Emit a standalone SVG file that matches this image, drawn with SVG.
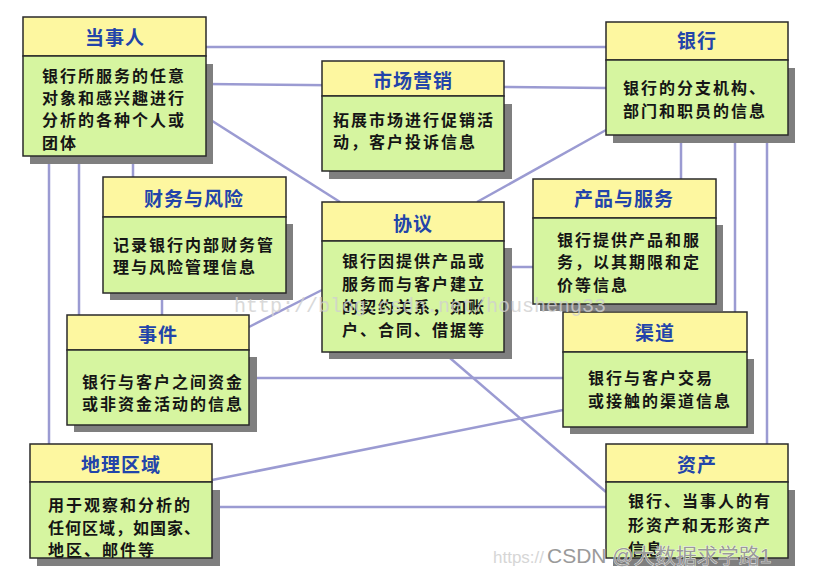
<svg xmlns="http://www.w3.org/2000/svg" width="830" height="586" viewBox="0 0 830 586">
<style>
.bg{fill:#ffffff}
.cn{fill:none;stroke:#9b9bd2;stroke-width:2.5}
.sh{fill:#7f7f7f}
.hd{fill:#fdf7a0;stroke:#2a2a2a;stroke-width:1.5}
.bd{fill:#d6f5a0;stroke:#2a2a2a;stroke-width:1.5}
.tt{font-family:"Noto Sans CJK SC","Liberation Sans",sans-serif;font-size:19px;font-weight:bold;fill:#2244aa;text-anchor:middle;letter-spacing:1px}
.tx{font-family:"Noto Sans CJK SC","Liberation Sans",sans-serif;font-size:16px;font-weight:bold;fill:#151515;letter-spacing:2px}
.wm{font-family:"Liberation Mono",monospace;font-size:20px;fill:#d0d0d0;opacity:0.8}
.wm2{font-family:"Liberation Sans","Noto Sans CJK SC",sans-serif;font-size:21px;fill:#9a9a9a;stroke:#ffffff;stroke-width:0.6;paint-order:stroke}
</style>
<rect class="bg" width="830" height="586"/>
<g id="connectors">
<line class="cn" x1="206" y1="47" x2="606" y2="47"/>
<line class="cn" x1="206" y1="84" x2="606" y2="88"/>
<line class="cn" x1="206" y1="117" x2="340" y2="202"/>
<line class="cn" x1="477" y1="202" x2="606" y2="130"/>
<line class="cn" x1="49" y1="156" x2="49" y2="444"/>
<line class="cn" x1="79" y1="156" x2="79" y2="315"/>
<line class="cn" x1="133" y1="156" x2="133" y2="177"/>
<line class="cn" x1="162" y1="293" x2="162" y2="315"/>
<line class="cn" x1="249" y1="327" x2="322" y2="290"/>
<line class="cn" x1="249" y1="378" x2="563" y2="378"/>
<line class="cn" x1="504" y1="267" x2="533" y2="267"/>
<line class="cn" x1="443" y1="352" x2="606" y2="492"/>
<line class="cn" x1="212" y1="480" x2="563" y2="410"/>
<line class="cn" x1="212" y1="507" x2="606" y2="507"/>
<line class="cn" x1="681" y1="135" x2="681" y2="179"/>
<line class="cn" x1="735" y1="135" x2="735" y2="312"/>
<line class="cn" x1="767" y1="135" x2="767" y2="444"/>
</g>
<g id="node-dangshiren">
<rect class="sh" x="30" y="64" width="183" height="100"/>
<rect class="hd" x="23" y="17" width="183" height="39"/>
<rect class="bd" x="23" y="56" width="183" height="100"/>
<text class="tt" x="115" y="45">当事人</text>
<text class="tx" x="42" y="82">银行所服务的任意</text>
<text class="tx" x="42" y="104">对象和感兴趣进行</text>
<text class="tx" x="42" y="126">分析的各种个人或</text>
<text class="tx" x="42" y="149">团体</text>
</g>
<g id="node-shichang">
<rect class="sh" x="329" y="104" width="183" height="75"/>
<rect class="hd" x="322" y="61" width="182" height="35"/>
<rect class="bd" x="322" y="96" width="182" height="75"/>
<text class="tt" x="413" y="88">市场营销</text>
<text class="tx" x="333" y="126">拓展市场进行促销活</text>
<text class="tx" x="333" y="148">动，客户投诉信息</text>
</g>
<g id="node-yinhang">
<rect class="sh" x="613" y="68" width="182" height="75"/>
<rect class="hd" x="606" y="22" width="182" height="38"/>
<rect class="bd" x="606" y="60" width="182" height="75"/>
<text class="tt" x="697" y="48">银行</text>
<text class="tx" x="623" y="94">银行的分支机构、</text>
<text class="tx" x="623" y="117">部门和职员的信息</text>
</g>
<g id="node-caiwu">
<rect class="sh" x="110" y="224" width="183" height="76"/>
<rect class="hd" x="103" y="177" width="183" height="40"/>
<rect class="bd" x="103" y="217" width="183" height="76"/>
<text class="tt" x="194" y="206">财务与风险</text>
<text class="tx" x="113" y="251">记录银行内部财务管</text>
<text class="tx" x="113" y="273">理与风险管理信息</text>
</g>
<g id="node-xieyi">
<rect class="sh" x="329" y="248" width="183" height="111"/>
<rect class="hd" x="322" y="202" width="182" height="39"/>
<rect class="bd" x="322" y="241" width="182" height="111"/>
<text class="tt" x="413" y="231">协议</text>
<text class="tx" x="342" y="267">银行因提供产品或</text>
<text class="tx" x="342" y="290">服务而与客户建立</text>
<text class="tx" x="342" y="313">的契约关系，如账</text>
<text class="tx" x="342" y="336">户、合同、借据等</text>
</g>
<g id="node-chanpin">
<rect class="sh" x="540" y="225" width="183" height="86"/>
<rect class="hd" x="533" y="179" width="183" height="39"/>
<rect class="bd" x="533" y="218" width="183" height="86"/>
<text class="tt" x="624" y="206">产品与服务</text>
<text class="tx" x="557" y="246">银行提供产品和服</text>
<text class="tx" x="557" y="268">务，以其期限和定</text>
<text class="tx" x="557" y="291">价等信息</text>
</g>
<g id="node-shijian">
<rect class="sh" x="74" y="357" width="183" height="75"/>
<rect class="hd" x="67" y="315" width="182" height="35"/>
<rect class="bd" x="67" y="350" width="182" height="75"/>
<text class="tt" x="158" y="342">事件</text>
<text class="tx" x="82" y="388">银行与客户之间资金</text>
<text class="tx" x="82" y="410">或非资金活动的信息</text>
</g>
<g id="node-qudao">
<rect class="sh" x="570" y="359" width="184" height="75"/>
<rect class="hd" x="563" y="312" width="184" height="40"/>
<rect class="bd" x="563" y="352" width="184" height="75"/>
<text class="tt" x="655" y="340">渠道</text>
<text class="tx" x="588" y="384">银行与客户交易</text>
<text class="tx" x="588" y="407">或接触的渠道信息</text>
</g>
<g id="node-dili">
<rect class="sh" x="37" y="490" width="183" height="76"/>
<rect class="hd" x="30" y="444" width="182" height="38"/>
<rect class="bd" x="30" y="482" width="182" height="76"/>
<text class="tt" x="121" y="472">地理区域</text>
<text class="tx" x="48" y="511">用于观察和分析的</text>
<text class="tx" x="48" y="534" style="letter-spacing:1px">任何区域，如国家、</text>
<text class="tx" x="48" y="556">地区、邮件等</text>
</g>
<g id="node-zichan">
<rect class="sh" x="613" y="490" width="182" height="76"/>
<rect class="hd" x="606" y="444" width="182" height="38"/>
<rect class="bd" x="606" y="482" width="182" height="76"/>
<text class="tt" x="697" y="472">资产</text>
<text class="tx" x="628" y="507">银行、当事人的有</text>
<text class="tx" x="628" y="531">形资产和无形资产</text>
<text class="tx" x="628" y="555">信息</text>
</g>
<g id="watermarks">
<text class="wm" x="234" y="312">http://blog.csdn.net/housheng33</text>
<text x="493" y="563" style="font-family:'Liberation Sans',sans-serif;font-size:17px;fill:#d6d6d6">https://</text>
<text class="wm2" x="547" y="563">CSDN @大数据求学路1</text>
</g>
</svg>
